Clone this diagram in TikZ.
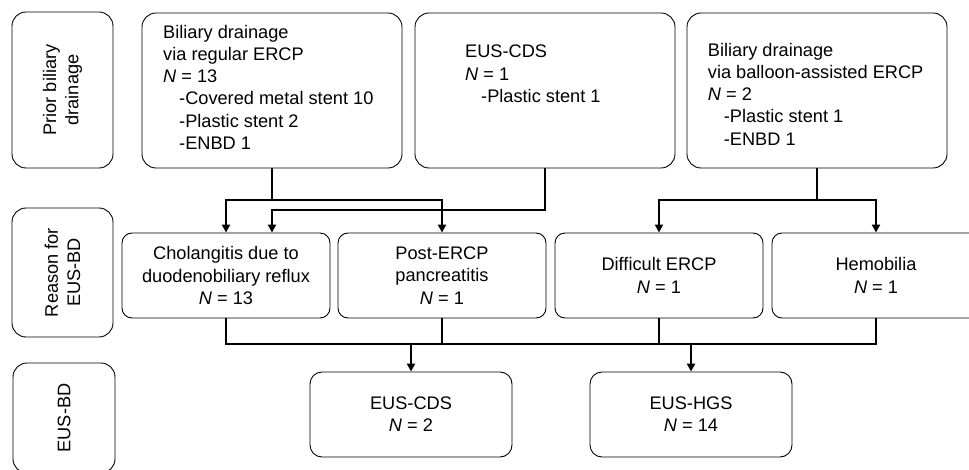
\documentclass[tikz,border=0pt]{standalone}
\usepackage{fontspec}
\setmainfont{Liberation Sans}
\usetikzlibrary{arrows.meta}
\begin{document}
\begin{tikzpicture}[x=1pt,y=-1pt]
	\tikzset{box/.style = {draw, line width=0.9pt, rounded corners=14pt, inner sep=0pt, align=center, font=\fontsize{18.2}{22.2}\selectfont}}
	\tikzset{midbox/.style = {box, rounded corners=10pt, minimum width=208pt, minimum height=85pt}}
	\tikzset{txt/.style = {anchor=north west, inner sep=0pt, align=left, font=\fontsize{18.2}{22.2}\selectfont}}
	\tikzset{link/.style = {line width=2pt}}
	\tikzset{edge/.style = {link, -{Triangle[length=8pt,width=8pt]}}}
	\useasboundingbox (0,0) rectangle (969,470);
	% row labels
	\node[box, rotate=90, minimum width=156pt, minimum height=101pt] (side1) at (62.5,90) {Prior biliary\\drainage};
	\node[box, rotate=90, minimum width=129pt, minimum height=101pt] (side2) at (62.5,272.5) {Reason for\\EUS-BD};
	\node[box, rotate=90, minimum width=110pt, minimum height=102pt] (side3) at (64,418) {EUS-BD};
	% prior drainage
	\node[box, minimum width=260pt, minimum height=155pt] (top1) at (272,90.5) {};
	\node[box, minimum width=260pt, minimum height=155pt] (top2) at (545,90.5) {};
	\node[box, minimum width=260pt, minimum height=155pt] (top3) at (817,90.5) {};
	\node[txt] (top1txt) at (163,25) {Biliary drainage\\via regular ERCP\\\textit{N} = 13\\\hspace*{16pt}-Covered metal stent 10\\\hspace*{16pt}-Plastic stent 2\\\hspace*{16pt}-ENBD 1};
	\node[txt] (top2txt) at (465,45) {EUS-CDS\\\textit{N} = 1\\\hspace*{16pt}-Plastic stent 1};
	\node[txt] (top3txt) at (707.7,43) {Biliary drainage\\via balloon-assisted ERCP\\\textit{N} = 2\\\hspace*{16pt}-Plastic stent 1\\\hspace*{16pt}-ENBD 1};
	% reasons
	\node[midbox] (mid1) at (226,275.5) {Cholangitis due to\\duodenobiliary reflux\\\textit{N} = 13};
	\node[midbox] (mid2) at (442,275.5) {Post-ERCP\\pancreatitis\\\textit{N} = 1};
	\node[midbox] (mid3) at (659,275.5) {Difficult ERCP\\\textit{N} = 1};
	\node[midbox] (mid4) at (876,275.5) {Hemobilia\\\textit{N} = 1};
	% EUS-BD
	\node[box, rounded corners=12pt, minimum width=202pt, minimum height=85pt] (bot1) at (411,414.5) {EUS-CDS\\\textit{N} = 2};
	\node[box, rounded corners=12pt, minimum width=202pt, minimum height=85pt] (bot2) at (691,414.5) {EUS-HGS\\\textit{N} = 14};
	% junctions
	\coordinate (j1) at (272,200);
	\coordinate (j2) at (545,210);
	\coordinate (j3) at (817,200);
	\coordinate (busL) at (226,344);
	\coordinate (busR) at (876,344);
	\draw[link] (top1.south) -- (j1);
	\draw[edge] (j1) -| (mid1.north);
	\draw[edge] (j1) -| (mid2.north);
	\draw[edge] (top2.south) -- (j2) -| (mid1.north -| top1.south);
	\draw[link] (top3.south) -- (j3);
	\draw[edge] (j3) -| (mid3.north);
	\draw[edge] (j3) -| (mid4.north);
	\draw[link] (mid1.south) -- (busL) -- (busR) -- (mid4.south);
	\draw[link] (mid2.south) -- (mid2.south |- busL);
	\draw[link] (mid3.south) -- (mid3.south |- busL);
	\draw[edge] (bot1.north |- busL) -- (bot1.north);
	\draw[edge] (bot2.north |- busL) -- (bot2.north);
\end{tikzpicture}
\end{document}
